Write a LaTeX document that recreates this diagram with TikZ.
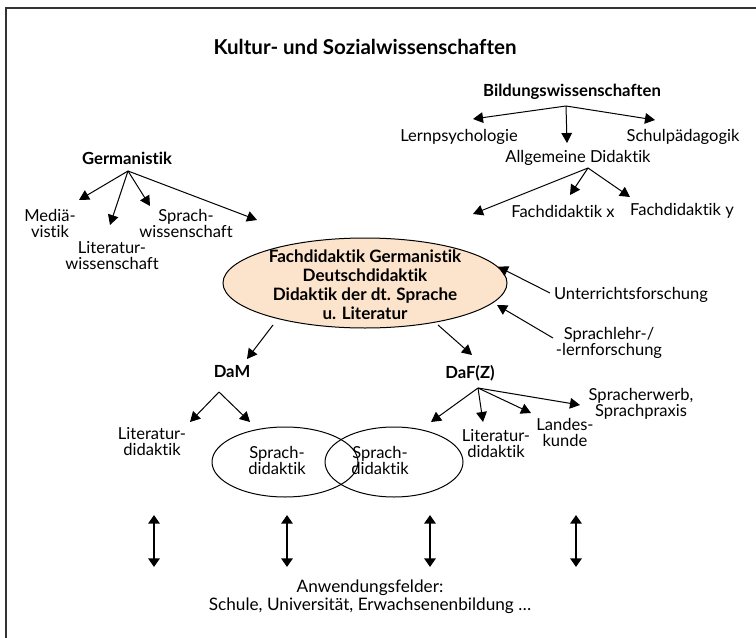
\documentclass[tikz,border=0pt]{standalone}
\usepackage{fontspec}
\setmainfont{Lato}[Ligatures={CommonOff,RequiredOff},Contextuals=AlternateOff]
\usepackage{tikz}
\usetikzlibrary{arrows.meta,shapes.geometric}
\definecolor{peach}{RGB}{252,228,204}

\begin{document}
\begin{tikzpicture}[x=0.75pt,y=-0.75pt,
  lbl/.style={align=center,inner sep=1pt,font=\fontsize{12.4}{12}\selectfont},
  bfl/.style={inner sep=1pt,font=\fontsize{12.5}{13}\selectfont\bfseries},
  arr/.style={-{Triangle[length=7.5pt,width=8pt]},line width=0.75pt},
  dblarr/.style={{Triangle[length=6.5pt,width=8.5pt]}-{Triangle[length=6.5pt,width=8.5pt]},line width=2pt},
  ring/.style={draw,ellipse,line width=0.75pt,inner sep=0pt}]
\useasboundingbox (0,0) rectangle (756,638);
\draw[line width=1.5pt,black!80] (5.5,638) -- (5.5,8) -- (756,8);

\node[font=\fontsize{15.4}{18}\selectfont\bfseries] (kultur) at (365,47) {Kultur- und Sozialwissenschaften};

% Germanistik
\node[bfl] (germ) at (127,158) {Germanistik};
\node[lbl] (medi) at (50,223) {Mediä-\\vistik};
\node[lbl] (litw) at (112,256) {Literatur-\\wissenschaft};
\node[lbl] (sprw) at (186,223) {Sprach-\\wissenschaft};
\coordinate (groot) at (128,171);
\draw[arr] (groot) -- (79,200);
\draw[arr] (groot) -- (110,225);
\draw[arr] (groot) -- (150,206);
\draw[arr] (groot) -- (257,220);

% Bildungswissenschaften
\node[bfl] (bild) at (572,92) {Bildungswissenschaften};
\node[lbl] (lernpsy) at (459,137) {Lernpsychologie};
\node[lbl] (schulp) at (683,137) {Schulpädagogik};
\node[lbl] (allg) at (578,158) {Allgemeine Didaktik};
\node[lbl] (fdx) at (563,211) {Fachdidaktik x};
\node[lbl] (fdy) at (682,211) {Fachdidaktik y};
\coordinate (broot) at (566,106);
\draw[arr] (broot) -- (473,119);
\draw[arr] (broot) -- (567,143);
\draw[arr] (broot) -- (655,120);
\coordinate (aroot) at (588,168);
\draw[arr] (aroot) -- (473,214);
\draw[arr] (aroot) -- (570,195);
\draw[arr] (aroot) -- (630,197);

% Fachdidaktik
\node[ring,fill=peach,minimum width=213pt,minimum height=67.5pt] (fdgring) at (365,283) {};
\node[align=center,inner sep=0pt,font=\fontsize{12.8}{14.25}\selectfont\bfseries] (fdg) at (365,285)
  {Fachdidaktik Germanistik\\Deutschdidaktik\\Didaktik der dt. Sprache\\u. Literatur};
\node[lbl] (unterr) at (631,295) {Unterrichtsforschung};
\node[lbl] (sprlehr) at (609,343) {Sprachlehr-/\\-lernforschung};
\draw[arr] (550,293) -- (fdgring.7);
\draw[arr] (553,338) -- (497,305);

% DaM / DaF(Z)
\node[bfl] (dam) at (232,372) {DaM};
\node[bfl] (daf) at (470,373) {DaF(Z)};
\draw[arr] (273,325) -- (247,359);
\draw[arr] (438,325) -- (472,355);

\node[lbl] (litdl) at (152,442) {Literatur-\\didaktik};
\node[ring,minimum width=109.5pt,minimum height=52.5pt] (ringl) at (285,462) {};
\node[lbl] (sdl) at (277,460) {Sprach-\\didaktik};
\node[ring,minimum width=103.5pt,minimum height=52.5pt] (ringr) at (394,462) {};
\node[lbl] (sdr) at (380,460) {Sprach-\\didaktik};
\node[lbl] (litdr) at (496,444) {Literatur-\\didaktik};
\node[lbl] (landk) at (565,432) {Landes-\\kunde};
\node[lbl] (sprerw) at (641,404) {Spracherwerb,\\Sprachpraxis};
\coordinate (mroot) at (219,392);
\draw[arr] (mroot) -- (190,422);
\draw[arr] (mroot) -- (250,422);
\coordinate (froot) at (478,388);
\draw[arr] (froot) -- (431,422);
\draw[arr] (froot) -- (483,422);
\draw[arr] (froot) -- (531,413);
\draw[arr] (froot) -- (580,405);

% Anwendungsfelder
\foreach \x in {154,287,430,576}
  \draw[dblarr] (\x,515) -- (\x,567);
\node[align=center,inner sep=1pt,font=\fontsize{12.9}{13.5}\selectfont] (anw) at (370,597)
  {Anwendungsfelder:\\Schule, Universität, Erwachsenenbildung \dots};
\end{tikzpicture}
\end{document}
